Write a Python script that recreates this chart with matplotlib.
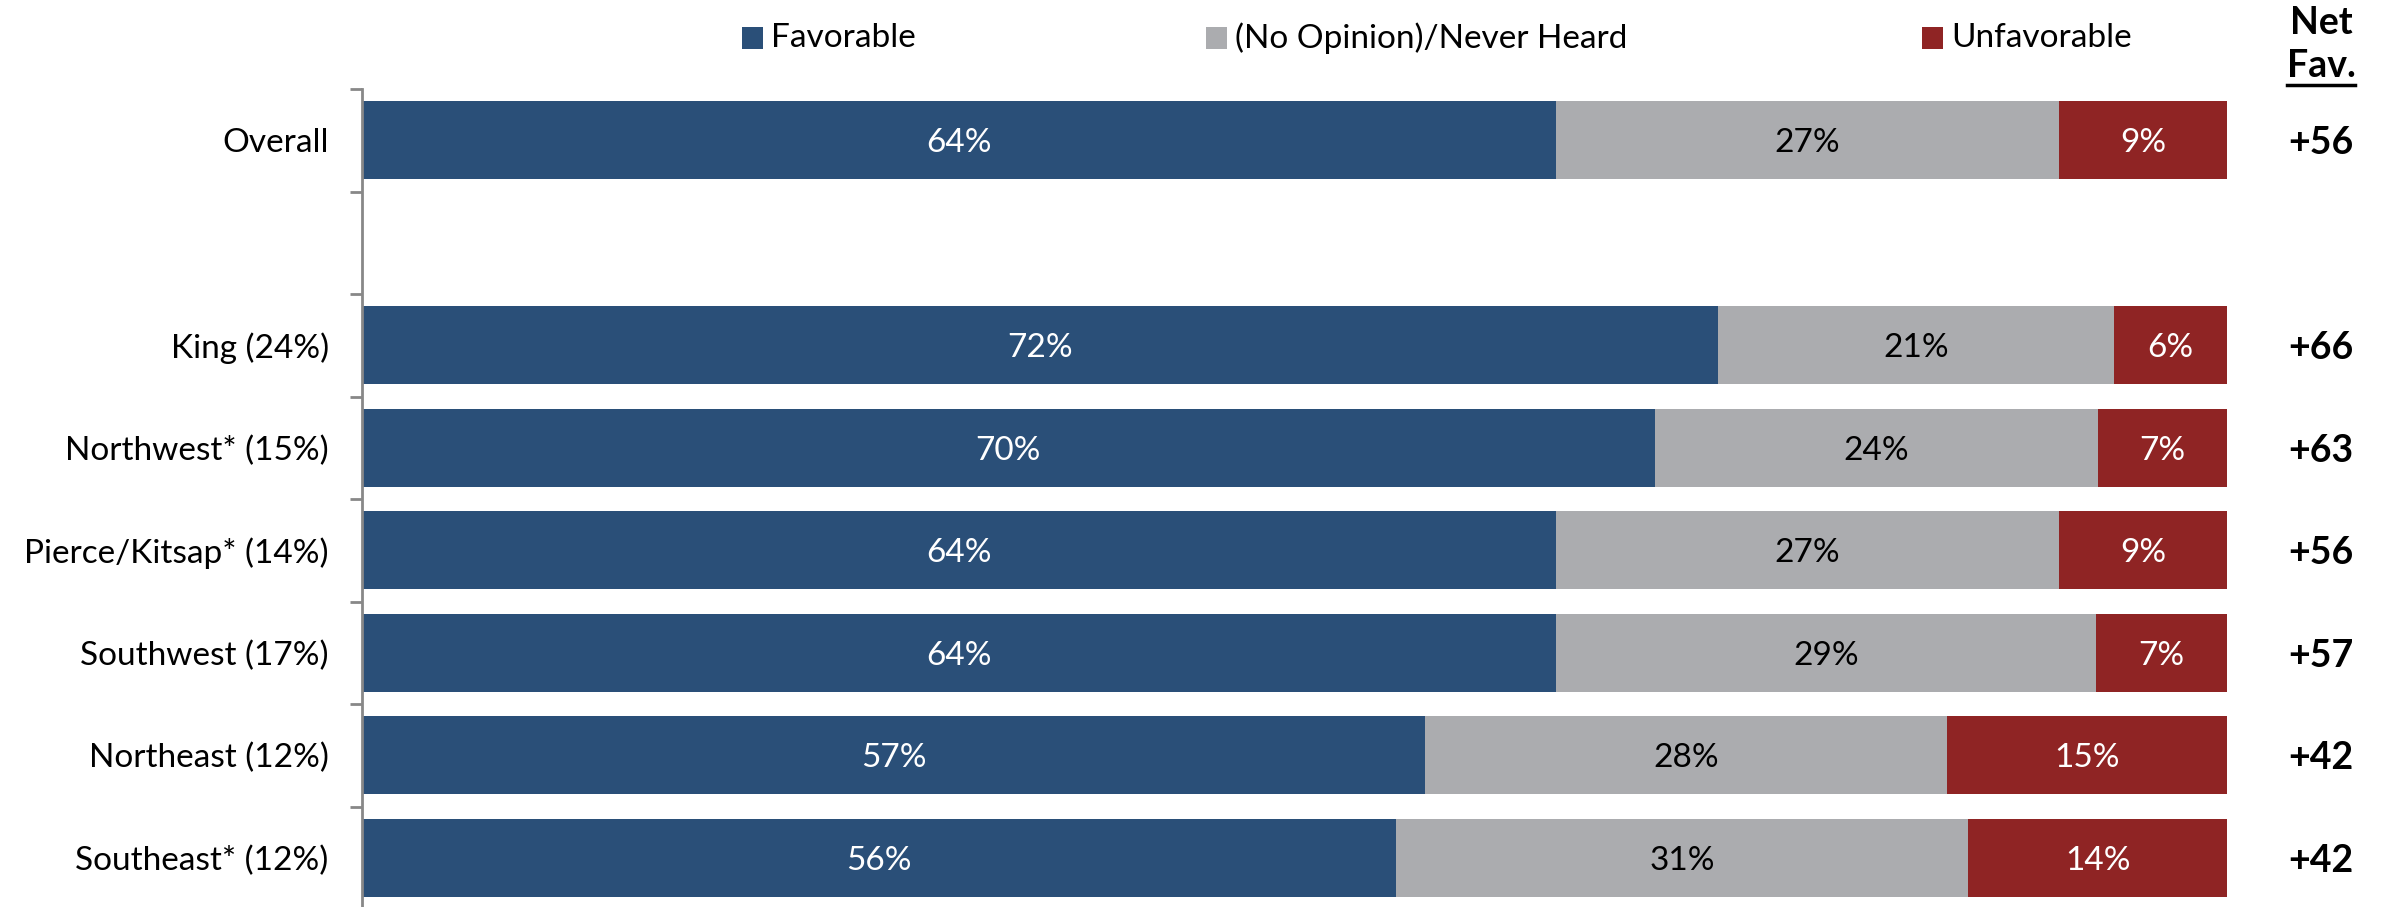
import matplotlib
matplotlib.use('Agg')
import matplotlib.pyplot as plt
import matplotlib.transforms as mtransforms
from matplotlib.patches import Rectangle
from matplotlib.lines import Line2D

# ------------------- DATA -------------------
categories = ['Overall', 'King (24%)', 'Northwest* (15%)', 'Pierce/Kitsap* (14%)',
              'Southwest (17%)', 'Northeast (12%)', 'Southeast* (12%)']
favorable = [64, 72, 70, 64, 64, 57, 56]
no_opinion = [27, 21, 24, 27, 29, 28, 31]
unfavorable = [9, 6, 7, 9, 7, 15, 14]
net_fav = [56, 66, 63, 56, 57, 42, 42]
series_names = ['Favorable', '(No Opinion)/Never Heard', 'Unfavorable']

# ------------------- STYLE -------------------
plt.rcParams['font.family'] = ['Lato', 'DejaVu Sans']
BLUE = '#2A4F78'
GRAY = '#ABACAF'
RED = '#8F2424'
colors = [BLUE, GRAY, RED]
text_colors = ['white', 'black', 'white']
FS = 24

W, H = 2384, 907
fig = plt.figure(figsize=(W / 100, H / 100), dpi=100)
# plot area: slot edges from y=89px down to just past the bottom edge
top_px, bot_px = 89, 909
ax = fig.add_axes([362 / W, (H - bot_px) / H, (2227 - 362) / W, (bot_px - top_px) / H])

# Overall first, then a blank slot, then the regions
ypos = [0] + list(range(2, len(categories) + 1))
nslots = len(categories) + 1

series = [favorable, no_opinion, unfavorable]
for r, y in enumerate(ypos):
    total = sum(s[r] for s in series)
    left = 0
    for k, s in enumerate(series):
        w = s[r] / total * 100
        ax.barh(y, w, left=left, height=0.76, color=colors[k], linewidth=0)
        ax.text(left + w / 2, y, f'{s[r]}%', ha='center', va='center_baseline',
                fontsize=FS, color=text_colors[k])
        left += w

ax.set_xlim(0, 100)
ax.set_ylim(nslots - 0.5, -0.5)
ax.set_xticks([])
ax.set_yticks(ypos)
ax.set_yticklabels(categories, fontsize=FS, va='center_baseline')
ax.set_yticks([i - 0.5 for i in range(nslots + 1)], minor=True)
ax.tick_params(axis='y', which='major', length=0, pad=24)
ax.tick_params(axis='y', which='minor', length=9, width=2, color='#888888')
for side in ['top', 'right', 'bottom']:
    ax.spines[side].set_visible(False)
ax.spines['left'].set_color('#888888')
ax.spines['left'].set_linewidth(2)

# Net favorable column
trans = mtransforms.blended_transform_factory(fig.transFigure, ax.transData)
xnet = 2321 / W
for y, v in zip(ypos, net_fav):
    ax.text(xnet, y, f'+{v}', transform=trans, ha='center', va='center_baseline',
            fontsize=FS + 3, fontweight='bold')
fig.text(xnet, 1 - 23 / H, 'Net', ha='center', va='center', fontsize=FS + 3, fontweight='bold')
fav_txt = fig.text(xnet, 1 - 66 / H, 'Fav.', ha='center', va='center',
                   fontsize=FS + 3, fontweight='bold')
fig.canvas.draw()
bb = fav_txt.get_window_extent().transformed(fig.transFigure.inverted())
fig.add_artist(Line2D([bb.x0, bb.x1], [1 - 85 / H] * 2, color='black', lw=2.5,
                      transform=fig.transFigure))

# Legend across the top
legend_x = [742, 1206, 1922]
sq = 21
for name, c, x in zip(series_names, colors, legend_x):
    fig.add_artist(Rectangle((x / W, 1 - (38 + sq / 2) / H), sq / W, sq / H,
                             transform=fig.transFigure, color=c, linewidth=0))
    fig.text((x + sq + 8) / W, 1 - 38 / H, name, ha='left', va='center', fontsize=FS)

fig.savefig('out.png', dpi=100)
